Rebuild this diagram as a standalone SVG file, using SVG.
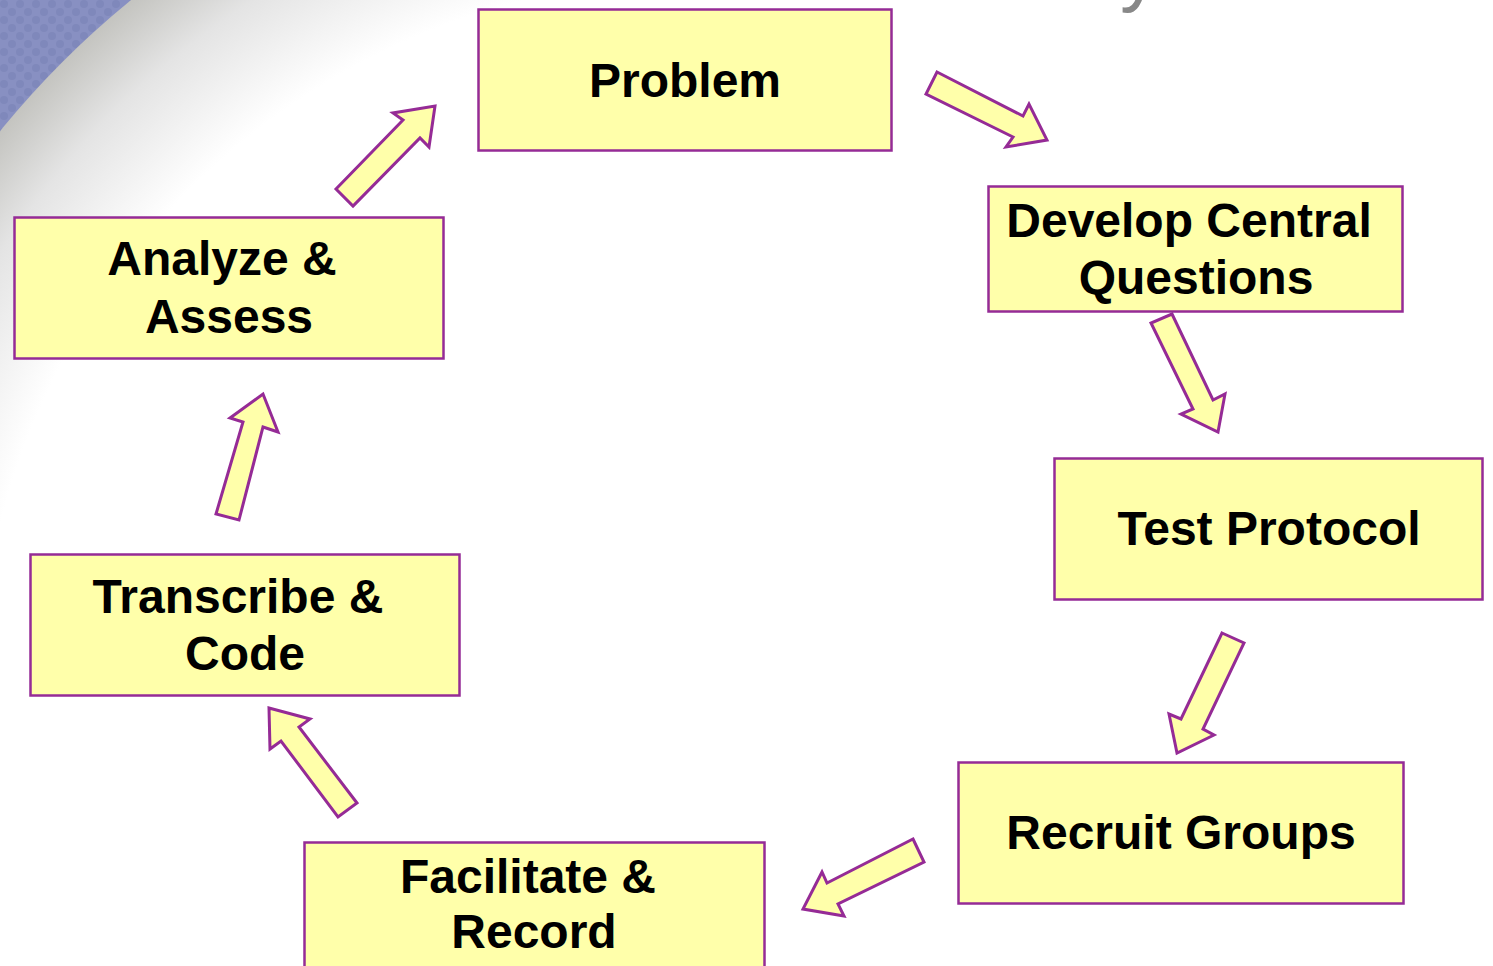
<svg xmlns="http://www.w3.org/2000/svg" width="1493" height="966" viewBox="0 0 1493 966">
<defs>
<radialGradient id="shade" gradientUnits="userSpaceOnUse" cx="700" cy="700" r="902">
<stop offset="0" stop-color="#ffffff"/>
<stop offset="0.8" stop-color="#ffffff"/>
<stop offset="0.92" stop-color="#e4e4e4"/>
<stop offset="1" stop-color="#c4c4c0"/>
</radialGradient>
<pattern id="chk" width="16" height="16" patternUnits="userSpaceOnUse">
<rect width="16" height="16" fill="#8890c2"/>
<circle cx="4" cy="4" r="4" fill="#7f88bb"/>
<circle cx="12" cy="12" r="4" fill="#7f88bb"/>
</pattern>
<clipPath id="disc"><circle cx="700" cy="700" r="902"/></clipPath>
</defs>
<style>
.box{fill:#FFFFAA;stroke:#952B96;stroke-width:2.5}
.arr{fill:#FFFFAA;stroke:#952B96;stroke-width:3;stroke-linejoin:miter}
.lbl{font-family:"Liberation Sans",Arial,sans-serif;font-weight:bold;font-size:48px;fill:#000;text-anchor:middle}
</style>
<rect width="1493" height="966" fill="#ffffff"/>
<g id="background">
<rect x="0" y="0" width="300" height="300" fill="url(#chk)"/>
<rect x="0" y="0" width="700" height="700" fill="url(#shade)" clip-path="url(#disc)"/>
<text x="1120" y="-4" font-family="Liberation Sans,Arial,sans-serif" font-size="80" fill="#888888">y</text>
</g>
<g id="connectors">
<polygon class="arr" points="336,189 403,120 393,113 435,106 429,147 420,138 353,206"/>
<polygon class="arr" points="937,72 1023,116 1029,104 1047,140 1006,147 1013,137 926,94"/>
<polygon class="arr" points="1172,314 1213,400 1225,394 1218,432 1181,414 1193,409 1151,323"/>
<polygon class="arr" points="1222,633 1244,643 1203,729 1214,735 1177,753 1169,714 1181,719"/>
<polygon class="arr" points="913,839 924,862 838,904 844,916 803,909 822,872 827,883"/>
<polygon class="arr" points="357,803 299,727 310,719 269,708 270,749 281,741 338,817"/>
<polygon class="arr" points="239,520 263,427 278,432 263,394 230,418 243,422 216,514"/>
</g>
<g id="problem">
<rect class="box" x="478.5" y="9.5" width="413" height="141"/>
<text class="lbl" x="685" y="97">Problem</text>
</g>
<g id="develop">
<rect class="box" x="988.5" y="186.5" width="414" height="125"/>
<text class="lbl" x="1189" y="237">Develop Central</text>
<text class="lbl" x="1196" y="294">Questions</text>
</g>
<g id="test">
<rect class="box" x="1054.5" y="458.5" width="428" height="141"/>
<text class="lbl" x="1269" y="545">Test Protocol</text>
</g>
<g id="recruit">
<rect class="box" x="958.5" y="762.5" width="445" height="141"/>
<text class="lbl" x="1181" y="849">Recruit Groups</text>
</g>
<g id="facilitate">
<rect class="box" x="304.5" y="842.5" width="460" height="140"/>
<text class="lbl" x="528" y="893">Facilitate &amp;</text>
<text class="lbl" x="534" y="948">Record</text>
</g>
<g id="transcribe">
<rect class="box" x="30.5" y="554.5" width="429" height="141"/>
<text class="lbl" x="238" y="613">Transcribe &amp;</text>
<text class="lbl" x="245" y="670">Code</text>
</g>
<g id="analyze">
<rect class="box" x="14.5" y="217.5" width="429" height="141"/>
<text class="lbl" x="222" y="275">Analyze &amp;</text>
<text class="lbl" x="229" y="333">Assess</text>
</g>
</svg>
